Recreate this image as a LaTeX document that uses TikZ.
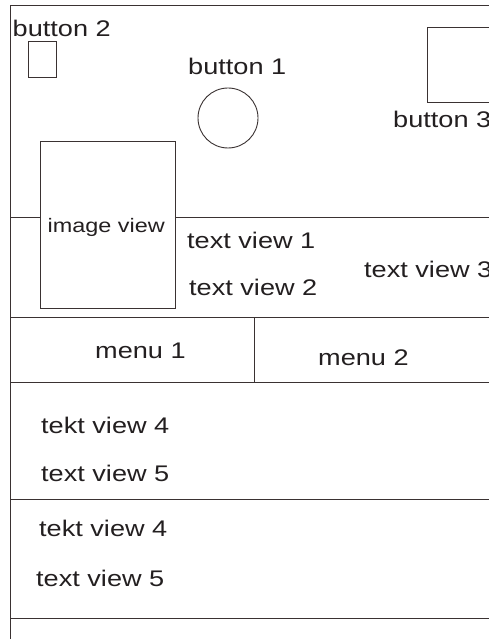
\documentclass[tikz,border=0pt]{standalone}
\usepackage{fontspec}
\newfontfamily\uifont{Liberation Sans}[FakeStretch=1.2]
\definecolor{inkline}{RGB}{58,50,50}
\definecolor{inktext}{RGB}{35,31,32}
\begin{document}
\begin{tikzpicture}[x=1pt,y=-1pt,
  rule/.style={draw=inkline,line width=0.9pt},
  widget/.style={draw=inkline,line width=0.9pt,fill=white,inner sep=0pt,minimum width=0pt},
  label/.style={inner sep=0pt,anchor=base west,text=inktext,font=\uifont\fontsize{22.6}{24}\selectfont},
  smalllabel/.style={label,font=\uifont\fontsize{19.5}{21}\selectfont}]
\useasboundingbox (0,0) rectangle (488,639);
\fill[white] (0,0) rectangle (488,639);

% screen frame and section dividers
\coordinate (tl) at (10,5.5);
\coordinate (tr) at (489,5.5);
\coordinate (bl) at (10,640);
\draw[rule] (tr) -- (tl) -- (bl);
\foreach \yy/\nm in {217.5/a,317/b,382/c,499/d,618/e}{
  \coordinate (\nm L) at (10,\yy);
  \coordinate (\nm R) at (489,\yy);
  \draw[rule] (\nm L) -- (\nm R);
}
\coordinate (mt) at (254.5,317);
\coordinate (mb) at (254.5,382);
\draw[rule] (mt) -- (mb);

% header widgets
\node[widget,rectangle,anchor=north west,minimum width=28pt,minimum height=36pt] (btn2) at (28,41) {};
\node[widget,circle,minimum size=60pt] (btn1) at (228,118) {};
\node[widget,rectangle,anchor=north west,minimum width=70pt,minimum height=75pt] (btn3) at (427,27) {};
\node[widget,rectangle,anchor=north west,minimum width=135.5pt,minimum height=167pt] (img) at (39.5,141) {};

% labels
\node[label] (lb2) at (12.5,36.5) {button 2};
\node[label] (lb1) at (188,75) {button 1};
\node[label] (lb3) at (393,128) {button 3};
\node[smalllabel] (limg) at (47.5,232) {image view};
\node[label] (ltv1) at (187,248) {text view 1};
\node[label] (ltv2) at (189,295) {text view 2};
\node[label] (ltv3) at (364,277) {text view 3};
\node[label] (lm1) at (95,358) {menu 1};
\node[label] (lm2) at (318,365) {menu 2};
\node[label] (ltv4a) at (41,433) {tekt view 4};
\node[label] (ltv5a) at (41,481) {text view 5};
\node[label] (ltv4b) at (39,536) {tekt view 4};
\node[label] (ltv5b) at (36,586) {text view 5};
\end{tikzpicture}
\end{document}
